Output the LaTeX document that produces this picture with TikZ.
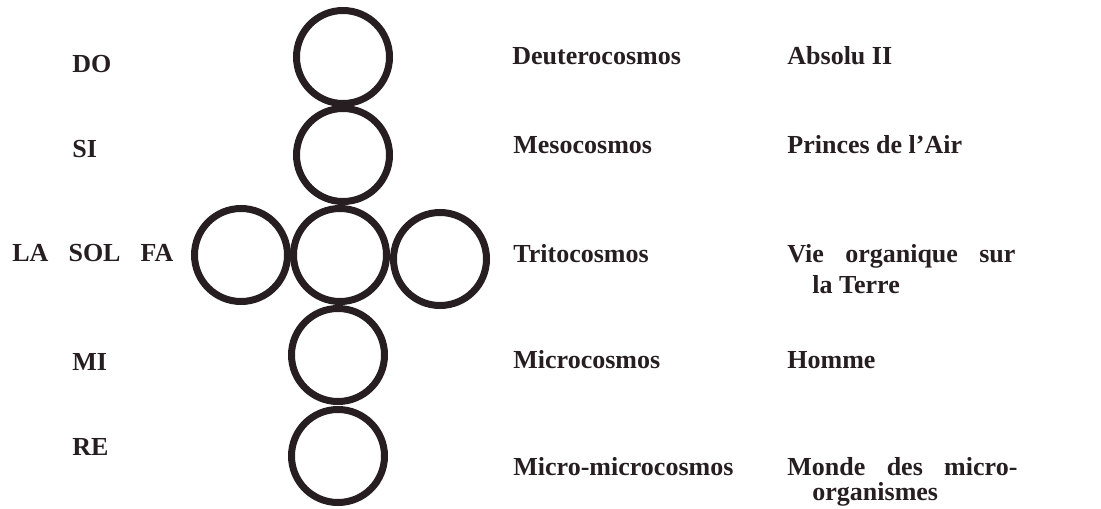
\documentclass[tikz,border=0pt]{standalone}
\usepackage{fontspec}
\setmainfont{Liberation Serif}
\definecolor{ink}{RGB}{38,30,32}
\begin{document}
\begin{tikzpicture}[
        x=0.5pt,
        y=-0.5pt,
        ring/.style={circle,draw=ink,line width=3.5pt,inner sep=0pt,minimum size=46.5pt},
        note/.style={draw=none,text=ink,inner sep=0pt,anchor=base west,
            font=\bfseries\fontsize{13}{15}\selectfont}
    ]
        \useasboundingbox (0,0) rectangle (1101,508);

        \foreach \n/\x/\y in {do/343/57,si/343/155,sol/340/255,mi/338/355,re/338/456} {
            \node[ring] (\n) at (\x,\y) {};
        }
        \node[ring] (la) at (241,255) {};
        \node[ring] (fa) at (440,259) {};

        % notes
        \node[note] (nDO) at (72,73) {DO};
        \node[note] (nSI) at (72,157) {SI};
        \node[note] (nLSF) at (12,261) {\makebox[80.5pt][s]{LA SOL FA}};
        \node[note] (nMI) at (72,370) {MI};
        \node[note] (nRE) at (72,455) {RE};

        % cosmoi
        \node[note] (cDO) at (512,65) {Deuterocosmos};
        \node[note] (cSI) at (513,153) {Mesocosmos};
        \node[note] (cSOL) at (513,262) {Tritocosmos};
        \node[note] (cMI) at (513,368) {Microcosmos};
        \node[note] (cRE) at (513,475) {Micro-microcosmos};

        % meanings
        \node[note] (mDO) at (787,65) {Absolu II};
        \node[note] (mSI) at (787,153) {Princes de l’Air};
        \node[note] (mSOL) at (787,262) {\makebox[114pt][s]{Vie organique sur}};
        \node[note] (mSOLb) at (812,293) {la Terre};
        \node[note] (mMI) at (787,368) {Homme};
        \node[note] (mRE) at (787,475) {\makebox[115pt][s]{Monde des micro-}};
        \node[note] (mREb) at (812,500) {organismes};
\end{tikzpicture}
\end{document}
